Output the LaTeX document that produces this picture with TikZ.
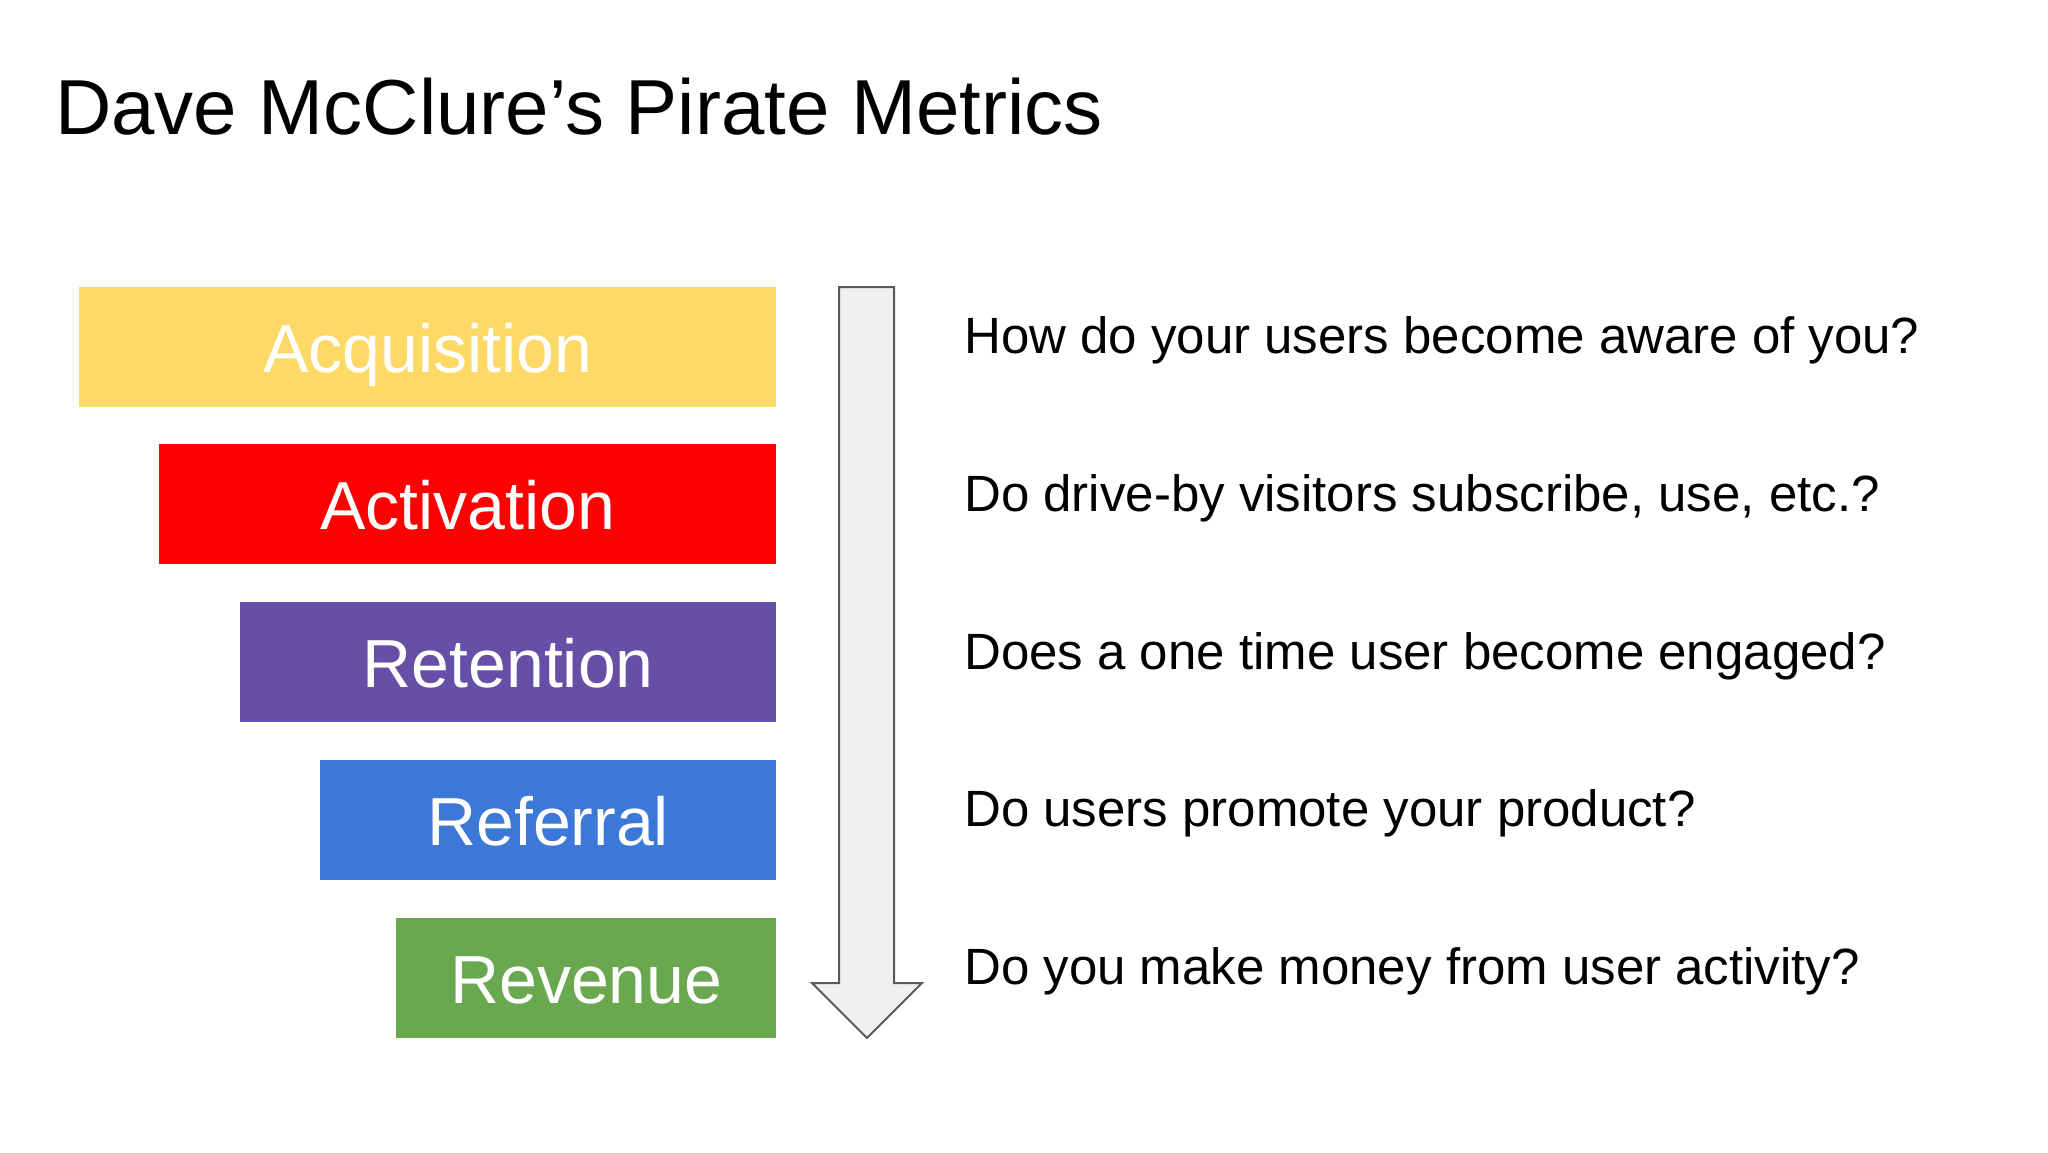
\documentclass[tikz,border=0pt]{standalone}
\usepackage{fontspec}
\setmainfont{Liberation Sans}
\definecolor{cyellow}{HTML}{FFD966}
\definecolor{cred}{HTML}{FF0000}
\definecolor{cpurple}{HTML}{674EA7}
\definecolor{cblue}{HTML}{3C78D8}
\definecolor{cgreen}{HTML}{6AA84F}
\definecolor{arrowfill}{HTML}{EFEFF1}
\definecolor{arrowline}{HTML}{595959}
\tikzset{
  stage/.style={anchor=north west, inner sep=0pt, minimum height=120pt, text=white,
    text height=50pt, text depth=0pt,
    font=\fontsize{68}{80}\selectfont},
  question/.style={anchor=base west, inner sep=0pt, text=black,
    font=\fontsize{51}{60}\selectfont},
  titletext/.style={anchor=base west, inner sep=0pt, text=black,
    font=\fontsize{78}{90}\selectfont},
  bigarrow/.style={fill=arrowfill, draw=arrowline, line width=2pt, line join=miter}
}
\begin{document}
\begin{tikzpicture}[x=1pt,y=-1pt]
\useasboundingbox[fill=white] (0,0) rectangle (2048,1152);
\node[titletext] (title) at (55,134) {Dave McClure’s Pirate Metrics};

\node[stage, fill=cyellow, minimum width=697pt] (acq) at (79,287) {Acquisition};
\node[stage, fill=cred, minimum width=617pt] (act) at (159,444) {Activation};
\node[stage, fill=cpurple, minimum width=536pt] (ret) at (240,602) {Retention};
\node[stage, fill=cblue, minimum width=456pt] (ref) at (320,760) {Referral};
\node[stage, fill=cgreen, minimum width=380pt] (rev) at (396,918) {Revenue};

\draw[bigarrow] (839,287) -- (894,287) -- (894,983) -- (922,983) -- (867,1038)
  -- (812,983) -- (839,983) -- cycle;

\node[question] (q1) at (964,353) {How do your users become aware of you?};
\node[question] (q2) at (964,511) {Do drive-by visitors subscribe, use, etc.?};
\node[question] (q3) at (964,669) {Does a one time user become engaged?};
\node[question] (q4) at (964,826) {Do users promote your product?};
\node[question] (q5) at (964,984) {Do you make money from user activity?};
\end{tikzpicture}
\end{document}
